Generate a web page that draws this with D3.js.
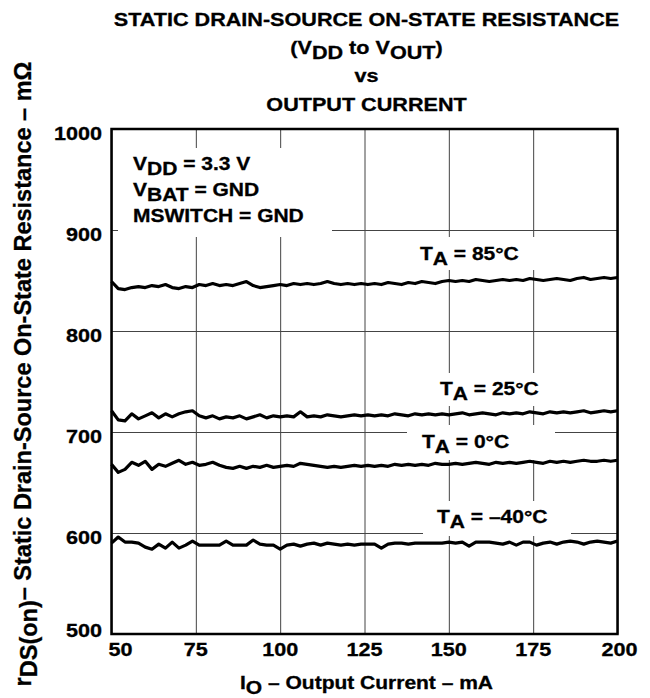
<!DOCTYPE html>
<html>
<head>
<meta charset="utf-8">
<script src="https://cdn.jsdelivr.net/npm/d3@7"></script>
<style>
body { margin: 0; background: #fff; }
text { font-family: "Liberation Sans", Arial, sans-serif; font-weight: bold; fill: #000; stroke: #000; stroke-width: 0.3; }
</style>
</head>
<body>
<script>
// output current, mA (one reading every 2 mA)
const current = d3.range(50, 201, 2)

// rDS(on) in mOhm
const r85 = [
  849, 842, 841, 843, 844, 843, 845, 844, 846, 843,
  842, 844, 843, 846, 845, 847, 845, 846, 845, 847,
  849, 845, 843, 844, 845, 846, 845, 847, 846, 847,
  846, 847, 849, 847, 846, 847, 846, 847, 846, 847,
  846, 848, 847, 846, 848, 847, 849, 848, 847, 849,
  850, 849, 850, 849, 851, 850, 849, 850, 851, 850,
  851, 850, 852, 851, 850, 851, 852, 851, 850, 852,
  853, 851, 852, 853, 852, 853]
const r25 = [
  721, 712, 711, 718, 713, 716, 719, 714, 718, 715,
  718, 720, 721, 716, 714, 716, 713, 715, 714, 716,
  713, 715, 717, 714, 716, 715, 716, 715, 720, 715,
  716, 715, 717, 716, 715, 716, 717, 716, 717, 716,
  717, 716, 718, 717, 716, 718, 717, 718, 717, 718,
  717, 718, 719, 717, 718, 719, 718, 717, 719, 718,
  719, 718, 720, 719, 718, 720, 719, 720, 719, 720,
  721, 719, 720, 721, 720, 721]
const r0 = [
  668, 660, 663, 670, 667, 671, 663, 668, 666, 669,
  672, 668, 670, 667, 668, 670, 667, 665, 664, 666,
  664, 666, 665, 667, 665, 666, 667, 666, 669, 668,
  667, 666, 665, 666, 665, 666, 667, 666, 667, 666,
  667, 666, 668, 667, 668, 667, 668, 667, 669, 668,
  668, 669, 668, 669, 670, 669, 668, 670, 669, 670,
  669, 670, 671, 670, 669, 671, 670, 671, 670, 671,
  672, 671, 671, 672, 671, 672]
const rM40 = [
  590, 596, 591, 591, 590, 586, 584, 589, 585, 591,
  585, 588, 592, 588, 588, 588, 588, 592, 588, 588,
  588, 593, 589, 588, 588, 584, 588, 589, 587, 589,
  590, 588, 590, 589, 588, 589, 588, 589, 589, 589,
  585, 589, 590, 590, 589, 590, 590, 590, 590, 590,
  591, 590, 591, 587, 591, 591, 591, 590, 589, 591,
  588, 591, 591, 588, 590, 591, 589, 591, 592, 591,
  589, 591, 592, 591, 590, 592]

const xTicks = [50, 75, 100, 125, 150, 175, 200]
const yTicks = [500, 600, 700, 800, 900, 1000]

const W = 650, H = 698
const SX = 1.2 // the scan is stretched sideways

const svg = d3.select('body').append('svg')
  .attr('width', W).attr('height', H)

const x = d3.scaleLinear().domain([50, 200]).range([111.5, 617.5])
const y = d3.scaleLinear().domain([500, 1000]).range([634, 129])

// text with optional subscripts, stretched like the original
function label(parent, px, py, parts, size, anchor) {
  const t = parent.append('text')
    .attr('transform', `translate(${px},${py}) scale(${SX},1)`)
    .attr('text-anchor', anchor || 'start')
    .attr('font-size', size)
  let shift = 0
  parts.forEach(p => {
    const sub = typeof p !== 'string'
    const want = sub ? 5 : 0
    t.append('tspan').attr('dy', want - shift).text(sub ? p.sub : p)
    shift = want
  })
  return t
}

// grid
svg.append('g')
  .attr('transform', `translate(0,${y(500)})`)
  .call(d3.axisBottom(x).tickValues(xTicks).tickSize(-(y(500) - y(1000))).tickFormat(''))
  .call(g => g.select('.domain').remove())
  .selectAll('line').attr('stroke', '#444').attr('stroke-width', 1)

svg.append('g')
  .attr('transform', `translate(${x(50)},0)`)
  .call(d3.axisLeft(y).tickValues(yTicks).tickSize(-(x(200) - x(50))).tickFormat(''))
  .call(g => g.select('.domain').remove())
  .selectAll('line').attr('stroke', '#444').attr('stroke-width', 1)

// white patches behind the labels inside the plot
const boxes = [
  [118, 148, 332, 237],
  [405, 237, 548, 270],
  [425, 373, 550, 406],
  [407, 425, 555, 460],
  [423, 501, 571, 536]
]
svg.append('g').selectAll('rect').data(boxes).join('rect')
  .attr('x', d => d[0]).attr('y', d => d[1])
  .attr('width', d => d[2] - d[0]).attr('height', d => d[3] - d[1])
  .attr('fill', '#fff')

// traces
const line = d3.line().x((d, i) => x(current[i])).y(d => y(d))
svg.append('g').selectAll('path').data([r85, r25, r0, rM40]).join('path')
  .attr('d', line)
  .attr('fill', 'none')
  .attr('stroke', '#000')
  .attr('stroke-width', 3.2)
  .attr('stroke-linejoin', 'round')

// frame
svg.append('rect')
  .attr('x', x(50)).attr('y', y(1000))
  .attr('width', x(200) - x(50)).attr('height', y(500) - y(1000))
  .attr('fill', 'none').attr('stroke', '#000').attr('stroke-width', 2.5)

// tick labels
xTicks.forEach((v, i) => {
  const dx = i === 0 ? 9 : (i === xTicks.length - 1 ? 2 : 0)
  label(svg, x(v) + dx, 656, [String(v)], 18, 'middle')
})
yTicks.forEach(v => {
  label(svg, 102, v === 500 ? 637 : y(v) + 10.5, [String(v)], 18, 'end')
})

// titles
const cx = (x(50) + x(200)) / 2 + 2
label(svg, cx, 26, ['STATIC DRAIN-SOURCE ON-STATE RESISTANCE'], 18, 'middle')
label(svg, cx, 54, ['(V', {sub: 'DD'}, ' to V', {sub: 'OUT'}, ')'], 18, 'middle')
label(svg, cx, 82, ['vs'], 18, 'middle')
label(svg, cx, 111, ['OUTPUT CURRENT'], 18, 'middle')

label(svg, cx, 689, ['I', {sub: 'O'}, ' – Output Current – mA'], 17.5, 'middle')

svg.append('text')
  .attr('transform', 'translate(31,374) rotate(-90)')
  .attr('text-anchor', 'middle')
  .attr('font-size', 23.5)
  .call(t => {
    t.append('tspan').text('r')
    t.append('tspan').attr('dy', 6).text('DS(on)')
    t.append('tspan').attr('dy', -6).text('– Static Drain-Source On-State Resistance – mΩ')
  })

// conditions
label(svg, 133, 170, ['V', {sub: 'DD'}, ' = 3.3 V'], 17.5)
label(svg, 133, 196, ['V', {sub: 'BAT'}, ' = GND'], 17.5)
label(svg, 133, 222, ['MSWITCH = GND'], 17.5)

// temperatures
label(svg, 420, 260, ['T', {sub: 'A'}, ' = 85°C'], 17.5)
label(svg, 440, 395, ['T', {sub: 'A'}, ' = 25°C'], 17.5)
label(svg, 422, 448, ['T', {sub: 'A'}, ' = 0°C'], 17.5)
label(svg, 437, 523, ['T', {sub: 'A'}, ' = –40°C'], 17.5)
</script>
</body>
</html>
